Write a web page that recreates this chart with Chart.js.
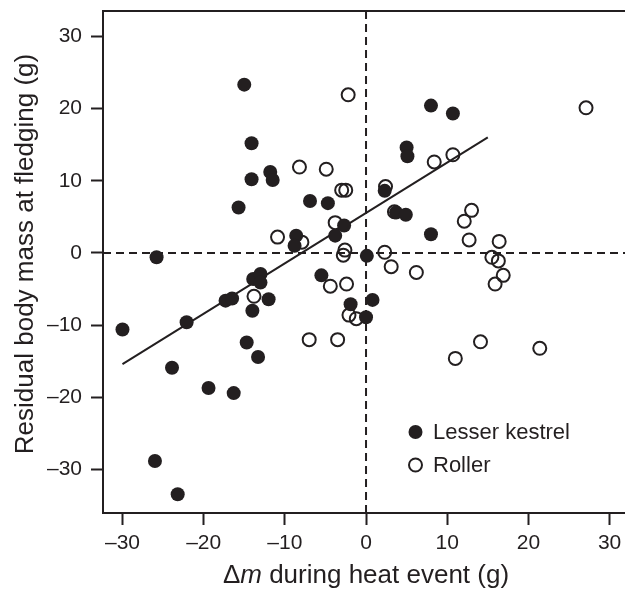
<!DOCTYPE html>
<html>
<head>
<meta charset="utf-8">
<script src="https://cdn.jsdelivr.net/npm/chart.js@4/dist/chart.umd.min.js"></script>
<style>
  html, body { margin: 0; padding: 0; background: #fff; }
  #wrap { width: 625px; height: 591px; }
</style>
</head>
<body>
<div id="wrap"><canvas id="chart" width="625" height="591"></canvas></div>
<script>
// Lesser kestrel (filled circles)
const kestrelX = [-15.0, -14.1, -14.1, -11.8, -11.5, -15.7, -6.9, -4.7, -2.7, -3.8,
  -8.6, -8.8, -25.8, 0.1, 8.0, 10.7, 5.0, 5.1, 2.3, 3.7,
  4.9, 8.0, -30.0, -22.1, -23.9, -19.4, -16.3, -26.0, -23.2, -17.3,
  -16.5, -13.9, -13.0, -13.0, -14.0, -12.0, -14.7, -13.3, -5.5, -1.9,
  0.8, 0.0];
const kestrelY = [23.3, 15.2, 10.2, 11.2, 10.1, 6.3, 7.2, 6.9, 3.8, 2.4,
  2.4, 1.0, -0.6, -0.4, 20.4, 19.3, 14.6, 13.4, 8.6, 5.6,
  5.3, 2.6, -10.6, -9.6, -15.9, -18.7, -19.4, -28.8, -33.4, -6.6,
  -6.3, -3.6, -2.9, -4.1, -8.0, -6.4, -12.4, -14.4, -3.1, -7.1,
  -6.5, -8.9];

// Roller (open circles)
const rollerX = [-2.2, -8.2, -4.9, -3.0, -2.5, -3.8, -10.9, -7.9, -2.6, -2.8,
  27.1, 8.4, 10.7, 2.4, 3.5, 13.0, 12.1, 12.7, 16.4, 2.3,
  15.5, 16.3, 3.1, 6.2, 16.9, 15.9, 14.1, 11.0, 21.4, -13.8,
  -4.4, -2.4, -7.0, -3.5, -2.1, -1.2];
const rollerY = [21.9, 11.9, 11.6, 8.7, 8.7, 4.2, 2.2, 1.5, 0.4, -0.3,
  20.1, 12.6, 13.6, 9.2, 5.7, 5.9, 4.4, 1.8, 1.6, 0.1,
  -0.6, -1.1, -1.9, -2.7, -3.1, -4.3, -12.3, -14.6, -13.2, -6.0,
  -4.6, -4.3, -12.0, -12.0, -8.6, -9.1];

// fitted line (kestrel)
const fitX = [-30, 15];
const fitY = [-15.4, 16.0];

const xTicks = [-30, -20, -10, 0, 10, 20, 30];
const yTicks = [-30, -20, -10, 0, 10, 20, 30];
const xRange = [-32.4, 31.9];
const yRange = [-36.0, 33.5];

const dark = '#231f20';
const fontFam = '"Liberation Sans", Arial, Helvetica, sans-serif';

const toPts = (xs, ys) => xs.map((x, i) => ({ x: x, y: ys[i] }));
const fmt = v => (v < 0 ? '\u2013' + Math.abs(v) : String(v));

const decor = {
  id: 'decor',
  afterDraw(chart) {
    const ctx = chart.ctx;
    const a = chart.chartArea;
    ctx.save();
    ctx.strokeStyle = dark;
    ctx.lineWidth = 2;
    ctx.beginPath();
    ctx.moveTo(a.left, a.top);
    ctx.lineTo(a.right, a.top);
    ctx.stroke();

    ctx.fillStyle = dark;
    // x title with italic m
    const normal = '26px ' + fontFam;
    const italic = 'italic 26px ' + fontFam;
    const parts = [['\u0394', normal], ['m', italic], [' during heat event (g)', normal]];
    let w = 0;
    parts.forEach(p => { ctx.font = p[1]; w += ctx.measureText(p[0]).width; });
    let x = 366 - w / 2;
    ctx.textBaseline = 'alphabetic';
    ctx.textAlign = 'left';
    parts.forEach(p => { ctx.font = p[1]; ctx.fillText(p[0], x, 583); x += ctx.measureText(p[0]).width; });

    // y title
    ctx.save();
    ctx.translate(33, 254);
    ctx.rotate(-Math.PI / 2);
    ctx.font = normal;
    ctx.textAlign = 'center';
    ctx.fillText('Residual body mass at fledging (g)', 0, 0);
    ctx.restore();

    // legend
    ctx.font = '22px ' + fontFam;
    ctx.textBaseline = 'middle';
    ctx.beginPath();
    ctx.arc(415.5, 432, 7, 0, Math.PI * 2);
    ctx.fill();
    ctx.fillText('Lesser kestrel', 433, 433);
    ctx.beginPath();
    ctx.arc(415.5, 465, 6.5, 0, Math.PI * 2);
    ctx.stroke();
    ctx.fillText('Roller', 433, 466);
    ctx.restore();
  }
};

new Chart(document.getElementById('chart'), {
  type: 'scatter',
  data: {
    datasets: [
      {
        label: 'Lesser kestrel',
        data: toPts(kestrelX, kestrelY),
        backgroundColor: dark,
        borderColor: dark,
        borderWidth: 0,
        pointRadius: 7,
        order: 0
      },
      {
        label: 'Roller',
        data: toPts(rollerX, rollerY),
        backgroundColor: 'rgba(255,255,255,0)',
        borderColor: dark,
        borderWidth: 2,
        pointRadius: 6.5,
        order: 1
      },
      {
        type: 'line',
        label: 'fit',
        data: toPts(fitX, fitY),
        borderColor: dark,
        borderWidth: 2,
        pointRadius: 0,
        fill: false,
        order: 2
      },
      {
        type: 'line',
        label: 'x0',
        data: [{ x: 0, y: yRange[0] }, { x: 0, y: yRange[1] }],
        borderColor: dark,
        borderWidth: 2,
        borderDash: [8, 5],
        pointRadius: 0,
        order: 3
      },
      {
        type: 'line',
        label: 'y0',
        data: [{ x: xRange[0], y: 0 }, { x: xRange[1], y: 0 }],
        borderColor: dark,
        borderWidth: 2,
        borderDash: [8, 5],
        pointRadius: 0,
        order: 3
      }
    ]
  },
  options: {
    responsive: false,
    animation: false,
    devicePixelRatio: 1,
    layout: { autoPadding: false, padding: { top: 11, right: 0, left: 0, bottom: 0 } },
    plugins: { legend: { display: false }, tooltip: { enabled: false } },
    scales: {
      x: {
        type: 'linear',
        min: xRange[0],
        max: xRange[1],
        afterBuildTicks: s => { s.ticks = xTicks.map(v => ({ value: v })); },
        afterFit: s => { s.height = 78; s.paddingLeft = 0; s.paddingRight = 0; },
        grid: { drawOnChartArea: false, tickLength: 12, tickWidth: 2, tickColor: dark, color: dark },
        border: { display: true, width: 2, color: dark },
        ticks: { padding: 6, color: dark, font: { family: fontFam, size: 21 }, callback: v => fmt(v), maxRotation: 0 }
      },
      y: {
        type: 'linear',
        min: yRange[0],
        max: yRange[1],
        afterBuildTicks: s => { s.ticks = yTicks.map(v => ({ value: v })); },
        afterFit: s => { s.width = 103; s.paddingTop = 0; s.paddingBottom = 0; },
        grid: { drawOnChartArea: false, tickLength: 12, tickWidth: 2, tickColor: dark, color: dark },
        border: { display: true, width: 2, color: dark },
        ticks: { padding: 9, color: dark, font: { family: fontFam, size: 21 }, callback: v => fmt(v) }
      }
    }
  },
  plugins: [decor]
});
</script>
</body>
</html>
